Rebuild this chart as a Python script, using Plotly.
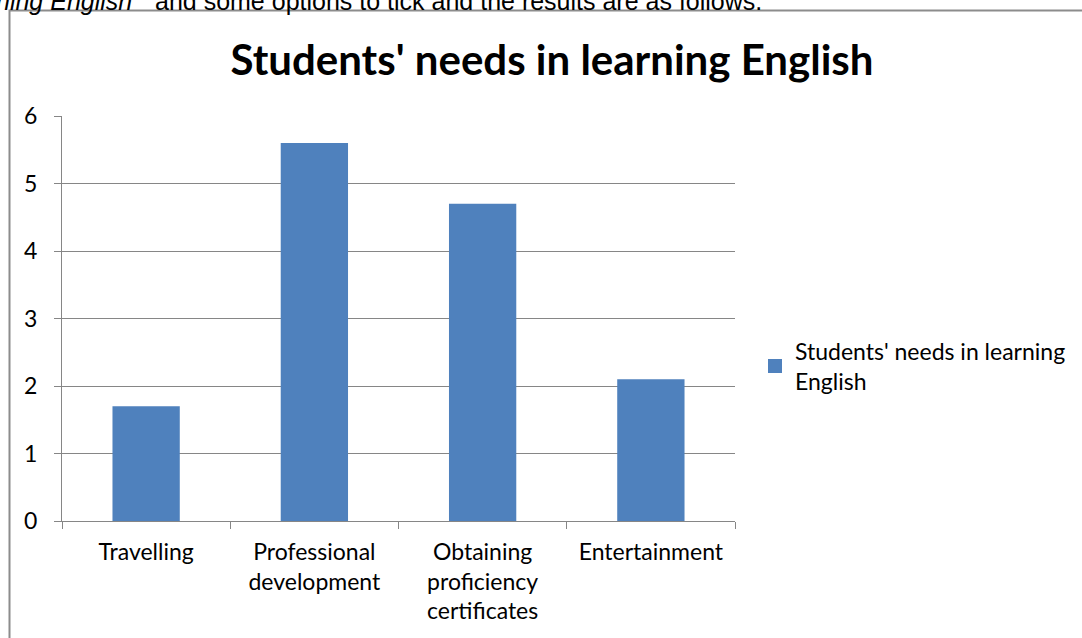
import plotly.graph_objects as go

categories = ["Travelling", "Professional<br>development", "Obtaining<br>proficiency<br>certificates", "Entertainment"]
values = [1.7, 5.6, 4.7, 2.1]
series_name = "Students' needs in learning<br>English"
title_text = "Students' needs in learning English"
y_ticks = [0, 1, 2, 3, 4, 5, 6]

W, H = 1082, 638
L, R, T, B = 62, 347, 116, 117
pw, ph = W - L - R, H - T - B

def px_x(p):
    return (p - L) / pw

def px_y(p):
    return (H - B - p) / ph

bar_color = "#4F81BD"
fig = go.Figure()
fig.add_trace(go.Bar(x=categories, y=values, name=series_name,
                     marker=dict(color=bar_color, line=dict(width=0)),
                     showlegend=False, legendgroup="s"))
# legend entry with a larger square swatch, same series
fig.add_trace(go.Scatter(x=[None], y=[None], mode="markers", name=series_name,
                         marker=dict(symbol="square", size=14, color=bar_color),
                         showlegend=True, legendgroup="s"))

grid = "#868686"
fig.update_layout(
    width=W, height=H,
    margin=dict(l=L, r=R, t=T, b=B, autoexpand=False),
    paper_bgcolor="white", plot_bgcolor="white",
    bargap=0.6,
    font=dict(family="Lato, Carlito, Open Sans, sans-serif", size=23, color="#000000"),
    title=dict(text="<b>" + title_text + "</b>", x=px_x(552), xanchor="center",
               xref="paper", y=1 - 60 / H, yanchor="middle",
               font=dict(size=42, family="Lato, sans-serif", color="#000000")),
    showlegend=True,
    legend=dict(x=px_x(755), xanchor="left", y=px_y(366), yanchor="middle",
                font=dict(size=23), bgcolor="rgba(0,0,0,0)", itemsizing="trace"),
    xaxis=dict(showgrid=False, showline=True, linecolor=grid, linewidth=1,
               ticks="outside", ticklen=7, tickcolor=grid, tickson="boundaries",
               tickfont=dict(size=23), zeroline=False, fixedrange=True,
               ticklabelstandoff=10),
    yaxis=dict(range=[0, 6], tickvals=y_ticks, showgrid=True, gridcolor=grid, gridwidth=1,
               showline=True, linecolor=grid, linewidth=1, ticks="outside", ticklen=7,
               tickcolor=grid, tickfont=dict(size=23), zeroline=False, fixedrange=True,
               ticklabelstandoff=12),
)

# outer chart border (top and left edges visible)
fig.add_shape(type="path", xref="paper", yref="paper",
              path=f"M {px_x(9.5)},{px_y(700)} L {px_x(9.5)},{px_y(10.5)} L {px_x(1200)},{px_y(10.5)}",
              line=dict(color="#8c8c8c", width=2))

# cropped surrounding document text at top
fig.add_annotation(xref="paper", yref="paper", x=px_x(-6), y=px_y(1), xanchor="left", yanchor="middle",
                   text="<i>ning English\"</i>  and some options to tick and the results are as follows.",
                   showarrow=False, font=dict(family="Liberation Sans, Arial", size=25, color="#000000"))

fig.write_html("out.html")
